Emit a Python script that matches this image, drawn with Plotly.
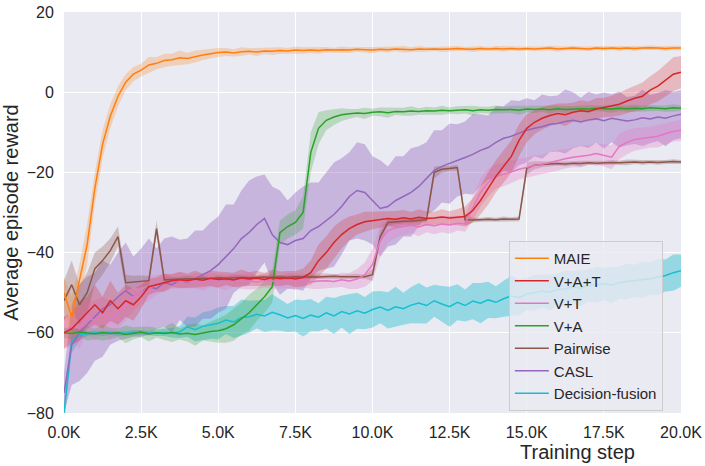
import numpy as np
import plotly.graph_objects as go

# training steps (every 250 steps, 0 .. 20K)
steps = list(range(0, 20001, 250))

names = ["MAIE", "V+A+T", "V+T", "V+A", "Pairwise", "CASL", "Decision-fusion"]
colors = ["#ff7f0e", "#d62728", "#e377c2", "#2ca02c", "#8c564b", "#9467bd", "#17becf"]

# mean episode reward
maie = [-50, -56, -47, -38, -24, -13, -6, -1, 2.5, 4.5, 5.5, 6.8, 7.2, 7.9, 8.1, 8.6,
        8.4, 8.9, 9.3, 9.6, 9.9, 10.0, 9.8, 10.1, 10.2, 10.0, 10.3, 10.2, 10.4, 10.3, 10.5, 10.4,
        10.5, 10.4, 10.6, 10.5, 10.6, 10.5, 10.7, 10.6, 10.5,
        10.7, 10.6, 10.8, 10.7, 10.6, 10.8, 10.7, 10.8, 10.7, 10.8,
        10.9, 10.8, 10.7, 10.9, 10.8, 10.9, 10.8, 10.9, 10.8, 10.9,
        10.8, 10.9, 11.0, 10.8, 10.9, 11.0, 10.9, 10.8, 11.0, 10.9,
        11.0, 10.9, 11.0, 10.9, 11.0, 11.1, 11.0, 10.9, 11.0, 11.0]
vat = [-60, -59, -57, -55, -53, -55, -52, -54, -52, -53, -51, -48.5, -48, -47.5, -47, -46.8, -47,
       -46.6, -46.9, -46.4, -46.7, -46.5, -46.8, -46.3, -46.6, -46.4, -46.7, -46.2, -46.5, -46.3, -46.6, -46.2,
       -45, -42, -40, -37.5, -35.5, -34, -33, -32.3, -32,
       -31.8, -31.5, -31.7, -31.3, -31.6, -31.2, -31.5, -31.4, -31.1, -31.4, -31.2,
       -31, -29.5, -27, -24, -21, -18.5, -16, -12, -9, -7.5, -6.5, -5.8, -5.3, -5.6, -5.0,
       -4.6, -4.8, -4.2, -3.8, -3.5, -3.0, -2.2, -1.5, -1.0, 0.5, 1.5, 3.0, 4.5, 5.0]
vt = [-60, -58, -59, -56, -57, -55, -57, -55, -53, -51, -50, -49, -48, -47.5,
      -47.2, -46.9, -47.3, -47.0, -47.4, -46.8, -47.1, -47.3, -46.9, -47.2,
      -47.0, -47.4, -46.9, -47.1, -47.3, -47.0, -47.2, -46.9, -47.3, -47.1,
      -47.0, -47.2, -46.8, -47.1, -46.6,
      -45.5, -43, -37, -34.5, -33.8,
      -33.5, -33.2, -33.6, -33.0, -33.3, -32.9, -33.1, -32.7, -32.8,
      -29, -25, -22.5, -21, -20.5, -19.8, -19.2, -18.8, -18.3, -18, -17.5, -17, -16.6, -16.2,
      -16.0, -15.7, -15.3, -15.8, -16.2, -13.5, -12.5, -11.8, -11.5, -11.2, -11.0, -10.3, -9.8, -9.5]
va = [-60.0, -60.2, -59.8, -60.1, -60.3, -59.9, -60.2, -60.0, -60.4, -60.1,
      -59.8, -60.3, -60.0, -60.2, -59.9, -60.3, -60.1, -60.4, -60.0, -59.7,
      -59.5, -59, -58, -56.5, -55, -53, -51, -48.5, -35, -33.5, -32.5, -30, -15, -9, -7, -6.2, -5.6,
      -5.4, -5.2, -5.3, -5.0, -4.9, -5.1, -4.8, -4.9, -4.7, -4.8, -4.6, -4.7, -4.5, -4.6, -4.5,
      -4.4, -4.6, -4.4, -4.5, -4.3, -4.4, -4.3, -4.5, -4.2, -4.3, -4.2, -4.4, -4.1, -4.3, -4.2,
      -4.1, -4.2, -4.0, -4.1, -4.2, -4.0, -4.1, -4.0, -4.1, -3.9, -4.0, -4.1, -3.9, -4.0]
pairwise = [-52, -48, -53, -50, -44, -42, -39.5, -36, -47.5, -47.3, -47.2, -47, -34, -46.8,
            -46.7, -46.6, -46.5, -46.6, -46.4, -46.5, -46.3, -46.4, -46.3, -46.2,
            -46.3, -46.2, -46.1, -46.2, -46.1, -46.2, -46.0, -46.1, -46.0, -46.1,
            -46.0, -45.9, -46.0, -46.0, -45.9, -46.0,
            -45.5, -36, -32.5, -32.3, -32.2, -32.1, -32.0, -31.8,
            -20, -19.2, -19, -18.8,
            -31.8, -31.9, -31.8, -31.7, -31.8, -31.6, -31.7, -31.6,
            -19,
            -18.2, -18.0, -17.9, -17.8, -17.9, -17.7, -17.8, -17.6, -17.7, -17.6,
            -17.5, -17.6, -17.5, -17.4, -17.5, -17.4, -17.5, -17.4, -17.3, -17.4]
casl = [-75, -63, -60, -58, -56, -54, -53, -51, -49.5, -51,
        -50, -48.5, -49, -47.5, -48, -46.8, -47.5, -46.5, -45.5, -44.5,
        -43, -41, -39, -36.5, -35, -33, -31.5, -35.5, -37.5, -38,
        -37, -36.5, -34.5, -33.5, -32, -30.5, -28.5, -26, -24.5, -25,
        -27, -29, -28.5, -27, -26, -25, -23.5, -21.5, -19.5, -18.5,
        -17.8, -17, -16.3, -15.5, -14.5, -13.8, -12.5, -11.5, -11, -10.2,
        -9.5, -9, -8.6, -8, -7.8, -7.3, -7.0, -7.4, -6.9, -6.6,
        -7.1, -6.5, -6.8, -7.2, -6.9, -6.4, -6.7, -6.2, -6.5, -5.9,
        -5.5]
fusion = [-80, -62, -60.5,
          -60.2, -60.0, -60.1, -60.0, -60.2, -60.1, -60.0, -59.9, -60.1, -60.0, -59.9, -60.0, -59.8,
          -58.5, -59.2, -58.4, -58.0, -57.6, -56.8, -57.3, -56.2, -56.0, -55.4,
          -55.8, -54.9, -55.5, -56.3, -55.7, -56.4, -55.6, -56.1, -55.0, -55.8,
          -54.7, -55.3, -54.5, -55.1,
          -54.2, -53.6, -54.4, -53.5, -54.0, -53.1, -52.6, -53.2, -52.0, -52.8,
          -53.5, -52.4, -53.2, -52.1, -52.6, -51.8, -52.4, -51.5, -50.8, -51.2,
          -50.3, -50.0, -49.6, -49.9, -49.2, -49.0, -48.6, -48.9, -48.3, -48.0,
          -47.8, -48.1, -47.5, -47.2, -47.0, -46.8, -46.5, -46.1, -45.7, -45.0, -44.5]

# half width of the shaded spread around each mean
maie_sd = [4, 5, 4, 5, 4, 3.5, 3, 2.5, 2,
           1.8, 1.6, 2.0, 1.5, 1.7, 1.5, 1.8, 1.4, 1.5, 1.3, 1.2, 1.1,
           1.0, 0.9, 1.1, 0.8, 1.0, 0.8, 0.9, 0.8, 0.7, 0.9,
           0.8, 0.7, 0.8, 0.7, 0.6, 0.8, 0.7, 0.6, 0.7, 0.8,
           0.6, 0.7, 0.6, 0.8, 0.6, 0.7, 0.6, 0.5, 0.7, 0.6,
           0.6, 0.5, 0.7, 0.6, 0.5, 0.6, 0.7, 0.5, 0.6, 0.5,
           0.6, 0.5, 0.6, 0.7, 0.5, 0.6, 0.5, 0.6, 0.5, 0.6,
           0.5, 0.6, 0.5, 0.6, 0.5, 0.6, 0.5, 0.6, 0.5, 0.6]
vat_sd = [4, 4, 5, 4, 5, 4, 5, 4, 4, 4, 3,
          2.0, 1.8, 2.2, 1.6, 2.0, 1.8, 2.1, 1.7, 1.9, 2.0,
          1.6, 1.8, 2.1, 1.7, 1.9, 1.6, 2.0, 1.8, 1.7, 2.0, 2.2,
          3, 4, 4, 4, 3.5, 3, 2.5, 2.5, 2.2,
          2.0, 1.8, 2.1, 1.9, 1.7, 2.0, 1.8, 1.6, 1.9, 1.7, 2.0,
          2.5, 3, 3.5, 4, 4, 4, 4, 4, 3.5, 3, 2.8,
          2.6, 2.5, 2.8, 2.4, 2.6, 2.5, 2.7, 2.4, 2.6, 2.8,
          3.0, 3.2, 3.4, 3.5, 3.8, 4.0, 4.2, 4.0]
vt_sd = [4, 4, 5, 4, 5, 4, 5, 4, 4, 3.5, 3, 3, 2.5, 2.2,
         1.8, 2.0, 1.6, 1.9, 2.1, 1.7, 1.8, 2.0, 1.6, 1.9,
         2.2, 1.7, 1.8, 2.0, 1.6, 1.9, 2.1, 1.8, 1.7, 2.0,
         1.9, 1.6, 1.8, 2.0, 2.5,
         3, 4, 4, 3, 2.5,
         2.2, 2.0, 2.3, 1.9, 2.1, 2.0, 2.2, 1.8, 2.0,
         3, 3.5, 3.5, 3, 3, 2.8, 2.6, 2.5, 2.6, 2.4,
         2.5, 2.6, 2.4, 2.5, 2.7, 2.4, 2.6, 2.8, 3.0, 3.2,
         3.0, 2.8, 2.7, 2.6, 2.8, 2.6, 2.5, 2.7]
va_sd = [1.2, 1.5, 1.0, 1.8, 1.3, 2.0, 1.4, 1.1, 2.2, 1.5,
         1.3, 1.9, 1.2, 1.6, 2.4, 1.4, 2.1, 2.8, 1.9, 2.5,
         3, 3.5, 4, 4, 4.5, 4, 4, 4, 3, 3, 3, 4, 5, 4, 2.5, 2, 1.6,
         1.2, 1.0, 1.4, 0.9, 1.1, 1.3, 0.9, 1.0, 1.2, 0.8,
         1.0, 0.9, 1.1, 0.8, 1.0, 0.9, 1.2, 0.8, 0.9, 1.0,
         0.8, 0.9, 1.1, 0.8, 0.9, 0.7, 1.0, 0.8, 0.9, 0.7,
         0.8, 1.0, 0.7, 0.8, 0.9, 0.7, 0.8, 0.9, 0.7, 0.8,
         0.7, 0.8, 0.9, 0.7]
pairwise_sd = [5, 6, 5, 5, 4, 3.5, 3, 2.5, 2, 1.5, 1.5, 1.2, 2, 1.2,
               0.6, 0.5, 0.7, 0.5, 0.6, 0.4, 0.6, 0.5, 0.7, 0.5,
               0.6, 0.4, 0.5, 0.6, 0.5, 0.7, 0.4, 0.5, 0.6, 0.5,
               0.5, 0.6, 0.4, 0.5, 0.6, 0.5, 1.5, 1.5, 0.8, 0.6,
               0.5, 0.6, 0.5, 0.7, 1.5, 0.8, 0.6, 0.7, 1.5, 0.6,
               0.5, 0.6, 0.5, 0.6, 0.5, 0.6, 1.5, 1.0, 0.7, 0.6,
               0.5, 0.6, 0.5, 0.7, 0.5, 0.6, 0.5, 0.6, 0.5, 0.7,
               0.5, 0.6, 0.5, 0.6, 0.5, 0.6, 0.5]
casl_sd = [5, 10, 12, 12, 11, 12, 10, 11, 12, 10,
           11, 12, 10, 11, 12, 10, 11, 12, 11, 12,
           12, 13, 11, 12, 13, 12, 11, 12, 13, 11,
           12, 13, 12, 11, 12, 13, 12, 11, 12, 12,
           11, 12, 10, 11, 10, 11, 10, 9, 10, 9,
           10, 9, 9, 10, 9, 8, 9, 8, 9, 8,
           8, 7, 8, 7, 7, 8, 7, 6, 7, 6,
           7, 6, 7, 6, 6, 7, 6, 6, 7, 6,
           6]
fusion_sd = [3, 3, 1.5,
             0.6, 0.5, 0.7, 0.5, 0.6, 0.5, 0.7, 0.6, 0.5, 0.8, 0.9, 1.2, 1.5,
             2.5, 3, 3.5, 3.5, 4, 3.5, 4, 4.5, 4, 3.5, 4, 4.5, 4, 3.5, 4, 4.5, 4, 3.5, 4, 4.5, 4, 5, 4.5, 4,
             4.5, 4, 4.5, 5, 4, 4.5, 5, 4.5, 4, 4.5, 5, 4.5, 4, 4.5, 5, 4.5, 4, 4.5, 5, 4.5,
             4, 4.5, 4, 4.5, 4, 4.5, 4, 4.5, 4, 4.5, 4, 4.5, 4, 4.5, 4, 4.5, 4, 4.5, 4, 4.5, 4]

means = [maie, vat, vt, va, pairwise, casl, fusion]
spreads = [maie_sd, vat_sd, vt_sd, va_sd, pairwise_sd, casl_sd, fusion_sd]
band_alpha = [0.25, 0.25, 0.3, 0.25, 0.3, 0.4, 0.4]

def rgba(hex_color, a):
    h = hex_color.lstrip("#")
    return "rgba(%d,%d,%d,%s)" % (int(h[0:2], 16), int(h[2:4], 16), int(h[4:6], 16), a)

fig = go.Figure()
x = np.array(steps)

# shaded bands first, last series at the bottom
for k in reversed(range(len(names))):
    m = np.array(means[k], dtype=float)
    s = np.array(spreads[k], dtype=float)
    fig.add_trace(go.Scatter(
        x=np.concatenate([x, x[::-1]]),
        y=np.concatenate([m + s, (m - s)[::-1]]),
        fill="toself", fillcolor=rgba(colors[k], band_alpha[k]),
        line=dict(width=0), hoverinfo="skip", showlegend=False))

# mean lines
for k in reversed(range(len(names))):
    fig.add_trace(go.Scatter(
        x=steps, y=means[k], mode="lines", name=names[k],
        line=dict(color=colors[k], width=1.5),
        legendrank=k + 1))

tick_font = dict(family="Liberation Sans, Arial, sans-serif", size=16, color="#262626")

fig.update_layout(
    width=705, height=466,
    margin=dict(l=64, r=24, t=12, b=53),
    paper_bgcolor="white",
    plot_bgcolor="#EAEAF2",
    font=tick_font,
    xaxis=dict(
        range=[0, 20000], automargin=False,
        tickvals=[0, 2500, 5000, 7500, 10000, 12500, 15000, 17500, 20000],
        ticktext=["0.0K", "2.5K", "5.0K", "7.5K", "10.0K", "12.5K", "15.0K", "17.5K", "20.0K"],
        showgrid=True, gridcolor="white", gridwidth=1.2, zeroline=False,
        ticks="outside", ticklen=5, tickcolor="rgba(0,0,0,0)",
        showline=False),
    yaxis=dict(
        range=[-80, 20], automargin=False,
        tickvals=[-80, -60, -40, -20, 0, 20],
        ticktext=["\u221280", "\u221260", "\u221240", "\u221220", "0", "20"],
        showgrid=True, gridcolor="white", gridwidth=1.2, zeroline=False,
        ticks="outside", ticklen=6, tickcolor="rgba(0,0,0,0)",
        showline=False,
        title=dict(text="Average episode reward", font=dict(size=20), standoff=6)),
    legend=dict(
        x=0.721, y=0.005, xanchor="left", yanchor="bottom",
        bgcolor="rgba(234,234,242,0.8)", bordercolor="#cccccc", borderwidth=1,
        font=dict(size=15), itemwidth=34),
    annotations=[dict(
        text="Training step", xref="paper", yref="paper", x=0.833, y=0,
        xanchor="center", yanchor="middle", yshift=-39, showarrow=False,
        font=dict(size=20))],
)

# drop the page's default body margin so the figure sits at the window's corner
fig.write_html("out.html", config={"displayModeBar": False},
               post_script="document.body.style.margin='0';")
